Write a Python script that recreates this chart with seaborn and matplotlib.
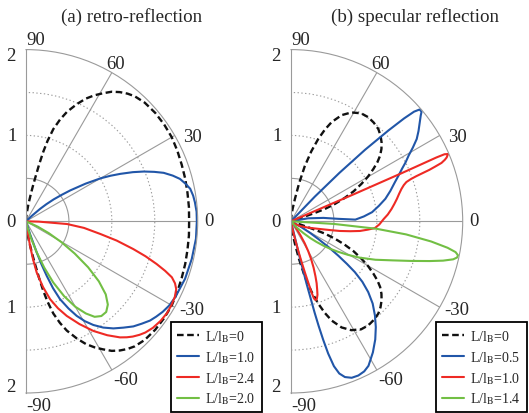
import numpy as np
import pandas as pd
import matplotlib
matplotlib.use("Agg")
import matplotlib.pyplot as plt
import seaborn as sns

sns.set_theme(style="white")
plt.rcParams["font.family"] = ["Liberation Serif", "DejaVu Serif"]
plt.rcParams["mathtext.fontset"] = "stix"

# ---------------- data (angle in degrees, radius) ----------------
# (a) retro-reflection
a0_theta = [90, 88, 86, 84, 82, 80, 79, 78, 77, 76, 75, 73.5, 71.5, 69.5, 66.5, 64, 61.5, 59, 56.5, 54,
            51.5, 49, 45, 40, 35, 30, 25, 20, 15, 10, 5, 0,
            -5, -10, -15, -20, -25, -30, -35, -40, -45, -49, -51.5, -54, -56.5, -59, -61.5, -64, -66.5,
            -69.5, -71.5, -73.5, -75, -76, -77, -78, -79, -80, -82, -84, -86, -88, -90]
a0_r = [0, 0.02, 0.06, 0.11, 0.2, 0.32, 0.41, 0.52, 0.68, 0.84, 0.97, 1.12, 1.25, 1.36, 1.49, 1.59, 1.67, 1.74, 1.81, 1.86,
        1.90, 1.93, 1.955, 1.965, 1.965, 1.96, 1.945, 1.93, 1.92, 1.91, 1.905, 1.90,
        1.905, 1.91, 1.92, 1.93, 1.945, 1.96, 1.965, 1.965, 1.955, 1.93, 1.90, 1.86, 1.81, 1.74, 1.67, 1.59, 1.49,
        1.36, 1.25, 1.12, 0.97, 0.84, 0.68, 0.52, 0.41, 0.32, 0.2, 0.11, 0.06, 0.02, 0]

a1_theta = [45, 43, 41.4, 40, 38.4, 36.5, 34.9, 32.3, 30, 28.3, 26.7, 24.7, 22.9, 21.1, 19.4, 17.3, 15.4, 13.2,
            11.2, 8.7, 6.4, 3.2, 0, -5.9, -12.8, -19.9, -27, -30.5, -33.5, -36.2, -38.7, -41.5, -44.4, -47.5,
            -50.8, -54, -57, -59.5, -61.8, -64, -66.4, -68, -69.2, -70.2, -71, -72.4, -74]
a1_r = [0, 0.1, 0.22, 0.31, 0.41, 0.52, 0.63, 0.82, 1.0, 1.12, 1.23, 1.37, 1.49, 1.60, 1.70, 1.79, 1.86, 1.91,
        1.95, 1.97, 1.98, 1.99, 1.99, 1.99, 1.98, 1.97, 1.95, 1.935, 1.91, 1.88, 1.85, 1.80, 1.75, 1.68,
        1.61, 1.53, 1.44, 1.35, 1.25, 1.13, 0.99, 0.84, 0.68, 0.53, 0.38, 0.16, 0]

a2_theta = [0, -1.5, -3.8, -6.5, -9.7, -12, -14.5, -16.3, -18.1, -19.6, -21, -22.6, -24.3, -27, -30, -33,
            -36.5, -40, -43, -45, -47.2, -49, -51, -54.5, -58.4, -62.5, -66.7, -69.8, -72.8, -75.5, -78.2,
            -79.5, -80.6, -81.3, -82]
a2_r = [0, 0.15, 0.48, 0.68, 0.88, 1.08, 1.29, 1.45, 1.60, 1.72, 1.82, 1.88, 1.92, 1.945, 1.955, 1.96,
        1.95, 1.93, 1.90, 1.87, 1.83, 1.79, 1.74, 1.63, 1.50, 1.35, 1.20, 1.08, 0.95, 0.79, 0.61,
        0.45, 0.29, 0.14, 0]

a3_theta = [-22, -24.5, -27.5, -30.5, -33.5, -36.5, -39.5, -42.5, -45.5, -48.5, -51.5, -54.3, -57, -60, -63,
            -66, -68.5, -71, -73.5, -76, -78]
a3_r = [0, 0.15, 0.3, 0.48, 0.68, 0.9, 1.1, 1.26, 1.36, 1.41, 1.41, 1.37, 1.28, 1.15, 0.98,
        0.78, 0.58, 0.38, 0.2, 0.07, 0]

# (b) specular reflection
b0_theta = [90, 87.5, 85, 82.5, 80, 78, 76, 73.8, 71.7, 69.7, 67.7, 64.5, 61, 57, 53.4, 50, 46.6, 43.8, 41.1,
            38.7, 36.4, 34.4, 32.5, 30.2, 28, 25.6, 23.5, 21.6, 20, 19.4, 19, 19,
            -19, -19, -19.4, -20, -21.6, -23.5, -25.6, -28, -30.2, -32.5, -34.4, -36.4, -38.7, -41.1, -43.8,
            -46.6, -50, -53.4, -57, -61, -64.5, -67.7, -69.7, -71.7, -73.8, -76, -78, -80, -82.5, -85, -87.5, -90]
b0_r = [0, 0.03, 0.08, 0.15, 0.27, 0.45, 0.66, 0.85, 1.01, 1.14, 1.25, 1.37, 1.45, 1.50, 1.51, 1.50, 1.48, 1.445, 1.40,
        1.35, 1.29, 1.22, 1.14, 1.04, 0.93, 0.81, 0.68, 0.55, 0.42, 0.3, 0.12, 0,
        0, 0.12, 0.3, 0.42, 0.55, 0.68, 0.81, 0.93, 1.04, 1.14, 1.22, 1.29, 1.35, 1.40, 1.445,
        1.48, 1.50, 1.51, 1.50, 1.45, 1.37, 1.25, 1.14, 1.01, 0.85, 0.66, 0.45, 0.27, 0.15, 0.08, 0.03, 0]

b1_theta = [48, 46, 45, 44, 43, 42.3, 41.7, 41, 40, 39.2, 37.5, 35.3, 33.2, 31.2, 29.2, 27.2, 25.3, 23, 20.5,
            17, 13.4, 10, 6.4, 3.8, 1.5, 3, 6, 10, 15,
            -29.4, -31.3, -33, -34.5, -36, -37.3, -38.5, -40.3, -42.5, -45.2, -48.3, -51.3, -54.5, -58, -61.8,
            -64, -66.4, -68.8, -70.9, -72.4, -73.5, -74.3, -74.8, -75.2, -75.5, -76, -76.5, -77.5]
b1_r = [0, 0.4, 0.8, 1.2, 1.55, 1.78, 1.92, 1.985, 1.985, 1.95, 1.89, 1.82, 1.75, 1.66, 1.57, 1.50, 1.43, 1.36, 1.29,
        1.21, 1.13, 1.04, 0.95, 0.85, 0.75, 0.55, 0.38, 0.2, 0,
        0.14, 0.26, 0.38, 0.53, 0.68, 0.82, 0.95, 1.09, 1.22, 1.35, 1.47, 1.58, 1.69, 1.80, 1.91,
        1.945, 1.96, 1.955, 1.92, 1.86, 1.76, 1.60, 1.43, 1.26, 1.1, 0.75, 0.4, 0]

b2_theta = [-84, -80, -77.2, -76.2, -75.4, -74.8, -74.3, -73.9, -73.5, -73.0, -72.2, -71.5, -70.2, -69, -67.5,
            -66, -64, -62, -60, -58, -56, -54, -50, -40, -27.6, -20, -14.9, -12.6, -11.2, -9.5, -8, -6.2,
            -4.6, -2, 1.4, 4, 7, 9.5, 11.9, 14.3, 16.3, 17.8, 18.8, 19.4, 19.8, 20.1, 20.4, 20.8, 21.2,
            21.8, 22.3, 23.2, 23.6, 23.7, 23.5, 23.3, 23]
b2_r = [0, 0.08, 0.21, 0.35, 0.49, 0.62, 0.74, 0.86, 0.93, 0.955, 0.96, 0.95, 0.91, 0.85, 0.78,
        0.7, 0.6, 0.5, 0.4, 0.3, 0.2, 0.12, 0.05, 0.03, 0.12, 0.22, 0.35, 0.47, 0.58, 0.7, 0.81, 0.9,
        0.98, 1.03, 1.08, 1.13, 1.18, 1.22, 1.26, 1.30, 1.34, 1.38, 1.42, 1.48, 1.55, 1.63, 1.72, 1.80, 1.88,
        1.93, 1.96, 1.99, 1.95, 1.85, 1.4, 0.8, 0]

b3_theta = [-2, -3.5, -5, -6.5, -8.2, -9.6, -10.6, -11.5, -12.3, -13.2, -14.5, -16, -18.3, -21, -24.5, -28,
            -30.5, -33, -35, -37, -39, -41, -43.5, -46, -50, -55]
b3_r = [0, 0.5, 1.0, 1.35, 1.65, 1.85, 1.95, 1.985, 1.98, 1.94, 1.83, 1.68, 1.47, 1.27, 1.08, 0.9,
        0.77, 0.65, 0.56, 0.47, 0.38, 0.3, 0.2, 0.12, 0.05, 0]

a_labels = ["L/l$_\\mathrm{B}$=0", "L/l$_\\mathrm{B}$=1.0", "L/l$_\\mathrm{B}$=2.4", "L/l$_\\mathrm{B}$=2.0"]
b_labels = ["L/l$_\\mathrm{B}$=0", "L/l$_\\mathrm{B}$=0.5", "L/l$_\\mathrm{B}$=1.0", "L/l$_\\mathrm{B}$=1.4"]
titles = ["(a) retro-reflection", "(b) specular reflection"]
angle_ticks = [90, 60, 30, 0, -30, -60, -90]
radial_ticks = [(90, 2, "2"), (90, 1, "1"), (90, 0, "0"), (-90, 1, "1"), (-90, 2, "2")]

colors = ["#111111", "#2156a8", "#ee2a24", "#72bf44"]
styles = [(0, (2.8, 1.5)), "-", "-", "-"]
widths = [1.7, 1.5, 1.5, 1.5]

W, H = 529, 414
fig = plt.figure(figsize=(W / 100, H / 100), dpi=100)

cx_px = [26, 291]
cy_px = 222.3
R_px = 171.7

grid_col = "#9a9a9a"
tick_fs = 13.5

# offsets (points) for angle labels: (dx, dy, ha)
ang_off = {90: (0.6, 7.0, "left"), 60: (-3.8, 6.2, "left"), 30: (5.8, -0.6, "left"),
           0: (5.0, 0.3, "left"), -30: (3.6, -1.9, "left"), -60: (0.8, -6.6, "left"),
           -90: (0.4, -9.2, "left")}
rad_off = {(90, 2): (-10.8, -4.5), (90, 1): (-10.3, 0), (90, 0): (-10.8, 0),
           (-90, 1): (-10.8, 0), (-90, 2): (-10.8, 5.0)}


def panel(k, series, labels):
    S = 2 * R_px  # square box; the half disc fills its middle half horizontally
    left = (cx_px[k] - R_px / 2) / W
    bottom = (H - (cy_px + R_px)) / H
    ax = fig.add_axes([left, bottom, S / W, S / H], projection="polar")
    ax.set_thetamin(-90)
    ax.set_thetamax(90)
    ax.set_rlim(0, 2)
    ax.patch.set_visible(False)
    handles = []
    for (th, rr), col, ls, lw, lab in zip(series, colors, styles, widths, labels):
        df = pd.DataFrame({"theta": np.deg2rad(th), "r": rr})
        sns.lineplot(data=df, x="theta", y="r", ax=ax, sort=False, estimator=None,
                     color=col, linestyle=ls, linewidth=lw, label=lab, legend=False)
        handles.append(ax.lines[-1])
    ax.set_xlabel("")
    ax.set_ylabel("")
    # grids
    ax.set_xticks(np.deg2rad([-60, -30, 0, 30, 60]))
    ax.set_xticklabels([])
    ax.set_yticks([0.5])
    ax.set_yticks([1.0, 1.5], minor=True)
    ax.set_yticklabels([])
    ax.xaxis.grid(True, color=grid_col, linewidth=0.8, linestyle="-")
    ax.yaxis.grid(True, which="major", color=grid_col, linewidth=0.8, linestyle="-")
    ax.yaxis.grid(True, which="minor", color=grid_col, linewidth=0.8, linestyle=(0, (1.2, 2.2)))
    ax.tick_params(axis="both", which="both", length=0)
    for name, sp in ax.spines.items():
        sp.set_color(grid_col)
        sp.set_linewidth(0.8)
    for t in angle_ticks:
        dx, dy, ha = ang_off[t]
        ax.annotate(str(t), xy=(np.deg2rad(t), 2), xycoords="data", xytext=(dx, dy),
                    textcoords="offset points", ha=ha, va="center", fontsize=tick_fs,
                    annotation_clip=False)
    for (t, rv, s) in radial_ticks:
        dx, dy = rad_off[(t, rv)]
        ax.annotate(s, xy=(np.deg2rad(t), rv), xycoords="data", xytext=(dx, dy),
                    textcoords="offset points", ha="center", va="center", fontsize=tick_fs,
                    annotation_clip=False)
    return ax, handles


axA, hA = panel(0, [(a0_theta, a0_r), (a1_theta, a1_r), (a2_theta, a2_r), (a3_theta, a3_r)], a_labels)
axB, hB = panel(1, [(b0_theta, b0_r), (b1_theta, b1_r), (b2_theta, b2_r), (b3_theta, b3_r)], b_labels)

fig.text(132 / W, 1 - 17 / H, titles[0], ha="center", va="center", fontsize=13.7)
fig.text(415 / W, 1 - 17 / H, titles[1], ha="center", va="center", fontsize=13.7)

for hs, labs, x0 in [(hA, a_labels, 171), (hB, b_labels, 436)]:
    leg = fig.legend(hs, labs, loc="upper left", bbox_to_anchor=(x0 / W, 1 - 323 / H),
                     borderaxespad=0, frameon=True, fancybox=False, framealpha=1,
                     edgecolor="black", facecolor="white", fontsize=10,
                     handlelength=1.6, handletextpad=0.45, labelspacing=0.37,
                     borderpad=0.42)
    leg.get_frame().set_linewidth(1.3)

fig.savefig("out.png", dpi=100)
